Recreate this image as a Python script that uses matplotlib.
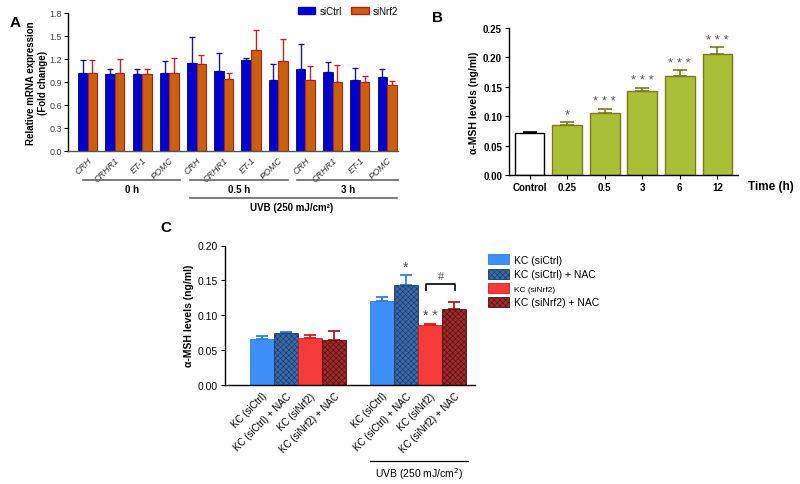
import matplotlib
matplotlib.use('Agg')
import matplotlib.pyplot as plt
from matplotlib.patches import Patch
from matplotlib.transforms import blended_transform_factory
import numpy as np

plt.rcParams['font.family'] = ['Liberation Sans', 'DejaVu Sans']
plt.rcParams['hatch.linewidth'] = 0.45

# ---- panel A data
genes = ['CRH', 'CRHR1', 'ET-1', 'POMC'] * 3
time_points = ['0 h', '0.5 h', '3 h']
a_ctrl = [1.02, 1.00, 1.00, 1.02, 1.14, 1.04, 1.18, 0.92, 1.07, 1.03, 0.93, 0.96]
a_ctrl_err = [0.17, 0.07, 0.07, 0.15, 0.34, 0.24, 0.03, 0.21, 0.32, 0.13, 0.15, 0.11]
a_nrf2 = [1.02, 1.02, 1.00, 1.02, 1.13, 0.94, 1.31, 1.17, 0.92, 0.90, 0.90, 0.86]
a_nrf2_err = [0.17, 0.18, 0.07, 0.19, 0.12, 0.07, 0.26, 0.29, 0.19, 0.22, 0.08, 0.055]

# ---- panel B data
b_labels = ['Control', '0.25', '0.5', '3', '6', '12']
b_vals = [0.072, 0.086, 0.106, 0.143, 0.168, 0.206]
b_err = [0.0015, 0.004, 0.007, 0.005, 0.010, 0.011]
b_stars = ['', '*', '* * *', '* * *', '* * *', '* * *']

# ---- panel C data
c_labels = ['KC (siCtrl)', 'KC (siCtrl) + NAC', 'KC (siNrf2)', 'KC (siNrf2) + NAC'] * 2
c_vals = [0.066, 0.074, 0.0675, 0.065, 0.121, 0.1435, 0.0866, 0.109]
c_err = [0.004, 0.002, 0.0045, 0.013, 0.005, 0.0135, 0.0015, 0.0106]
c_stars = ['', '', '', '', '', '*', '* *', '']

fig = plt.figure(figsize=(8, 4.85), dpi=100)

def style(ax):
    for s in ['top', 'right']:
        ax.spines[s].set_visible(False)
    for s in ['left', 'bottom']:
        ax.spines[s].set_linewidth(1.0)

# ================= A
axA = fig.add_axes([0.085, 0.687, 0.4125, 0.2845])
style(axA)
x = np.arange(len(genes))
w = 0.35
blue, orange = '#0000cc', '#c8600e'
axA.bar(x - w/2, a_ctrl, w, color=blue, edgecolor='#00008a', lw=0.6, zorder=2)
axA.bar(x + w/2, a_nrf2, w, color=orange, edgecolor='#b5201e', lw=0.8, zorder=2)
axA.errorbar(x - w/2, a_ctrl, yerr=[np.zeros(12), a_ctrl_err], fmt='none',
             ecolor='#1a1a90', elinewidth=1, capsize=2.5, capthick=1, zorder=1)
axA.errorbar(x + w/2, a_nrf2, yerr=[np.zeros(12), a_nrf2_err], fmt='none',
             ecolor='#c0262c', elinewidth=1, capsize=2.5, capthick=1, zorder=1)
axA.set_xlim(-0.72, 11.4)
axA.set_ylim(0, 1.8)
axA.set_yticks(np.arange(0, 1.81, 0.3))
axA.set_yticklabels(['%.1f' % v for v in np.arange(0, 1.81, 0.3)], fontsize=6.5, color='#444444')
axA.tick_params(axis='y', length=3, width=0.8, pad=1.5)
axA.set_xticks(x)
axA.set_xticklabels(genes, rotation=45, ha='right', va='top', rotation_mode='anchor',
                    fontsize=6.5, style='italic', color='#333333')
axA.tick_params(axis='x', length=0, pad=3)
axA.spines['bottom'].set_color('#555555')
axA.set_ylabel('Relative mRNA expression\n(Fold change)', fontsize=7, fontweight='bold',
               labelpad=1)
trA = blended_transform_factory(axA.transData, axA.transAxes)
for (x0, x1), lab in zip([(-0.17, 3.4), (3.77, 7.37), (7.7, 11.4)], time_points):
    axA.plot([x0, x1], [-0.21, -0.21], color='#666666', lw=1.2, transform=trA, clip_on=False)
    axA.text((x0 + x1) / 2, -0.275, lab, transform=trA, ha='center', va='center',
             fontsize=7, fontweight='bold')
axA.plot([3.77, 11.35], [-0.34, -0.34], color='#666666', lw=1.2, transform=trA, clip_on=False)
axA.text(7.5, -0.405, 'UVB (250 mJ/cm²)', transform=trA, ha='center', va='center',
         fontsize=7, fontweight='bold')
fig.legend([Patch(facecolor=blue, edgecolor=blue), Patch(facecolor=orange, edgecolor='#b5201e')],
           ['siCtrl', 'siNrf2'], loc='center', bbox_to_anchor=(348/800, 1-12/485), ncol=2,
           frameon=False, fontsize=7, handlelength=1.8, handleheight=0.8, columnspacing=1.0,
           handletextpad=0.4)
fig.text(10/800, 1-23/485, 'A', fontsize=11, fontweight='bold', va='center')

# ================= B
axB = fig.add_axes([509/800, 0.637, 229/800, 0.303])
style(axB)
xb = np.arange(len(b_vals))
green_face, green_edge = '#a9bf38', '#7b7a1c'
faces = ['white'] + [green_face] * 5
edges = ['black'] + [green_edge] * 5
axB.bar(xb, b_vals, 0.79, color=faces, edgecolor=edges, lw=1.0, zorder=2)
for xi, v, e, ec in zip(xb, b_vals, b_err, edges):
    axB.errorbar(xi, v, yerr=[[0], [e]], fmt='none', ecolor=ec, elinewidth=1.2,
                 capsize=5, capthick=1.2, zorder=1)
for xi, v, e, s in zip(xb, b_vals, b_err, b_stars):
    if s:
        axB.text(xi, v + e + 0.003, s, ha='center', va='bottom', fontsize=9.5,
                 color='#555555')
axB.set_xlim(-0.55, 5.55)
axB.set_ylim(0, 0.25)
axB.set_yticks(np.arange(0, 0.251, 0.05))
axB.set_yticklabels(['%.2f' % v for v in np.arange(0, 0.251, 0.05)], fontsize=7,
                    fontweight='bold')
axB.set_xticks(xb)
axB.set_xticklabels(b_labels, fontsize=7, fontweight='bold')
axB.tick_params(axis='both', length=3, width=0.8, pad=2)
axB.set_ylabel('α-MSH levels (ng/ml)', fontsize=7.5, fontweight='bold', labelpad=3)
fig.text(771/800, 1-187/485, 'Time (h)', fontsize=8.5, fontweight='bold', ha='center',
         va='center')
fig.text(432/800, 1-18/485, 'B', fontsize=11, fontweight='bold', va='center')

# ================= C
axC = fig.add_axes([225/800, 1-386/485, 250/800, 139.5/485])
style(axC)
xc = np.array([0, 1, 2, 3, 5, 6, 7, 8])
c_face = ['#3d8ef5', '#3a69a8', '#f53a3a', '#9c2b2b'] * 2
c_edge = ['#2b7de6', '#1c3a66', '#d81c1c', '#560e0e'] * 2
c_ecol = ['#2b7de6', '#2b7de6', '#d81c1c', '#b01c1c'] * 2
c_hatch = [None, 'xxxxxx', None, 'xxxxxx'] * 2
for xi, v, fc, ec, h in zip(xc, c_vals, c_face, c_edge, c_hatch):
    axC.bar(xi, v, 1.0, color=fc, edgecolor=ec, hatch=h, lw=0.6, zorder=2)
for xi, v, e, ec in zip(xc, c_vals, c_err, c_ecol):
    axC.errorbar(xi, v, yerr=[[0], [e]], fmt='none', ecolor=ec, elinewidth=1.3,
                 capsize=4.5, capthick=1.3, zorder=1)
for xi, v, e, s in zip(xc, c_vals, c_err, c_stars):
    if s:
        axC.text(xi, v + e + 0.002, s, ha='center', va='bottom', fontsize=10,
                 color='#555555')
axC.plot([6.85, 6.85, 8.05, 8.05], [0.1355, 0.145, 0.145, 0.1355], color='black', lw=1.2)
axC.text(7.45, 0.149, '#', ha='center', va='bottom', fontsize=8, color='#555555')
axC.set_xlim(-1.54, 8.875)
axC.set_ylim(0, 0.20)
axC.set_yticks(np.arange(0, 0.201, 0.05))
axC.set_yticklabels(['%.2f' % v for v in np.arange(0, 0.201, 0.05)], fontsize=7.5)
axC.tick_params(axis='y', length=3, width=0.8, pad=2)
axC.set_xticks(xc)
axC.set_xticklabels(c_labels, rotation=45, ha='right', va='top', rotation_mode='anchor',
                    fontsize=7)
axC.tick_params(axis='x', length=0, pad=4)
axC.set_ylabel('α-MSH levels (ng/ml)', fontsize=7.5, fontweight='bold', labelpad=3)
trC = blended_transform_factory(axC.transData, axC.transAxes)
axC.plot([4.5, 8.6], [-0.545, -0.545], color='black', lw=0.9, transform=trC, clip_on=False)
axC.text(6.55, -0.63, 'UVB (250 mJ/cm$^2$)', transform=trC, ha='center', va='center',
         fontsize=7.5)
handles = [Patch(facecolor=c_face[i], edgecolor=c_edge[i], hatch=c_hatch[i], lw=0.6)
           for i in range(4)]
legC = fig.legend(handles, c_labels[:4], loc='upper left',
                  bbox_to_anchor=(479/800, 1-246/485), frameon=False, fontsize=7.5,
                  handlelength=2.0, handleheight=1.1, handletextpad=0.5, labelspacing=0.35)
legC.get_texts()[2].set_fontsize(6)
fig.text(160/800, 1-228/485, 'C', fontsize=11, fontweight='bold', va='center')

fig.savefig('out.png', dpi=100)
